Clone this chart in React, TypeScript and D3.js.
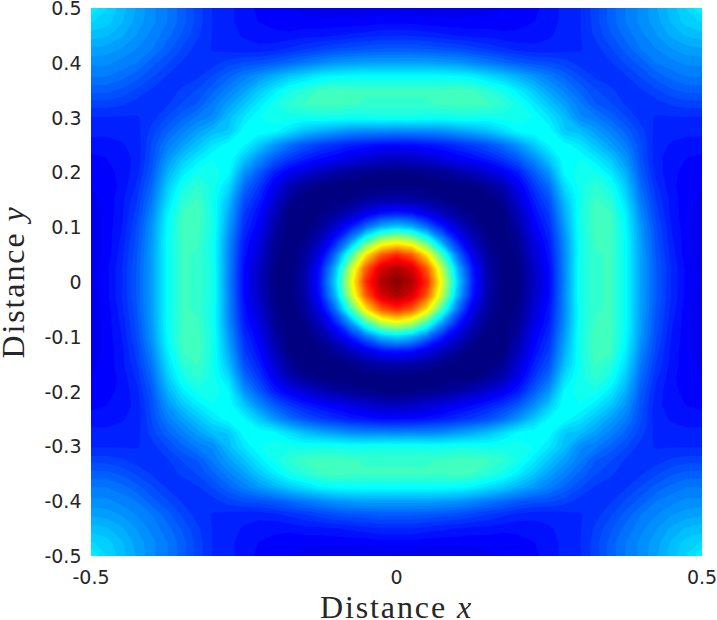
import React from "react";
import * as d3 from "d3";

const WIDTH = 717;
const HEIGHT = 620;
const STEP = 0.025;
// One triangle of the symmetric field: row j is y = j*STEP, entry i is x = i*STEP (i <= j), read as position on the jet scale.
const fieldRows: number[][] = [
  [1],
  [.96,.92],
  [.84,.79,.65],
  [.60,.56,.44,.28],
  [.34,.31,.24,.16,.09],
  [.16,.15,.11,.07,.035,.012],
  [.05,.045,.035,.018,.005,.002,.004],
  [.006,.005,.003,.002,.004,.01,.028,.06],
  [.012,.015,.02,.03,.045,.065,.09,.12,.16],
  [.07,.075,.09,.105,.125,.14,.16,.185,.22,.27],
  [.14,.14,.15,.16,.175,.19,.21,.24,.28,.33,.378],
  [.26,.265,.265,.27,.285,.30,.32,.35,.38,.39,.385,.33],
  [.40,.40,.395,.395,.40,.40,.395,.40,.40,.39,.36,.32,.27],
  [.435,.435,.435,.44,.445,.445,.44,.425,.40,.365,.325,.29,.255,.22],
  [.44,.44,.44,.44,.445,.44,.42,.40,.365,.33,.29,.26,.23,.205,.19],
  [.385,.385,.385,.385,.38,.37,.35,.33,.305,.28,.255,.23,.205,.185,.18,.185],
  [.29,.29,.29,.285,.28,.265,.25,.235,.22,.21,.205,.195,.18,.175,.185,.205,.225],
  [.22,.22,.215,.21,.205,.195,.185,.175,.165,.16,.16,.165,.17,.18,.20,.225,.25,.265],
  [.17,.17,.165,.16,.155,.15,.15,.145,.145,.15,.155,.16,.17,.19,.215,.24,.26,.28,.30],
  [.135,.135,.13,.13,.13,.13,.13,.13,.135,.14,.15,.16,.17,.195,.225,.25,.27,.29,.315,.335],
  [.115,.115,.115,.115,.115,.115,.12,.125,.13,.135,.15,.16,.17,.195,.225,.25,.27,.295,.32,.345,.375],
];
const xTicks = [-0.5, 0, 0.5];
const yTicks = [0.5, 0.4, 0.3, 0.2, 0.1, 0, -0.1, -0.2, -0.3, -0.4, -0.5];
const LEVELS = 64;

function jet(v: number): string {
  const ramp = (c: number) => Math.max(0, Math.min(1, 1.5 - Math.abs(4 * v - c)));
  const to = (c: number) => Math.round(255 * c);
  return `rgb(${to(ramp(3))},${to(ramp(2))},${to(ramp(1))})`;
}

export default function App() {
  const plot = { left: 91, right: 702, top: 8, bottom: 556 };
  const x = d3.scaleLinear().domain([-0.5, 0.5]).range([plot.left, plot.right]);
  const y = d3.scaleLinear().domain([-0.5, 0.5]).range([plot.bottom, plot.top]);

  const n = 2 * (fieldRows.length - 1) + 1;
  const mid = fieldRows.length - 1;
  const values: number[] = [];
  for (let r = 0; r < n; r++) {
    for (let c = 0; c < n; c++) {
      const a = Math.abs(r - mid);
      const b = Math.abs(c - mid);
      values.push(fieldRows[Math.max(a, b)][Math.min(a, b)]);
    }
  }
  const thresholds = d3.range(1, LEVELS).map((k) => k / LEVELS);
  const bands = d3.contours().size([n, n]).smooth(true).thresholds(thresholds)(values);
  // d3.contours places sample k at grid coordinate k + 0.5
  const gx = (g: number) => x((g - 0.5 - mid) * STEP);
  const gy = (g: number) => y((g - 0.5 - mid) * STEP);
  const path = d3.geoPath(
    d3.geoTransform({
      point(px: number, py: number) {
        (this as any).stream.point(gx(px), gy(py));
      },
    })
  );

  const tickStyle = { fontFamily: "DejaVu Sans", fontSize: 19, fill: "#262626" };
  const labelStyle = { fontFamily: "Liberation Serif", fontSize: 32, fill: "#262626", letterSpacing: 1.9 };

  return (
    <svg width={WIDTH} height={HEIGHT} style={{ position: "absolute", left: 0, top: 0, background: "#fff" }}>
      <defs>
        <clipPath id="plot">
          <rect x={plot.left} y={plot.top} width={plot.right - plot.left} height={plot.bottom - plot.top} />
        </clipPath>
      </defs>
      <g clipPath="url(#plot)">
        <rect x={plot.left} y={plot.top} width={plot.right - plot.left} height={plot.bottom - plot.top} fill={jet(0)} />
        {bands.map((b, i) => (
          <path key={i} d={path(b as any) || ""} fill={jet(b.value)} stroke={jet(b.value)} strokeWidth={0.4} />
        ))}
      </g>
      {xTicks.map((t) => (
        <text key={t} x={x(t)} y={584} textAnchor="middle" style={tickStyle}>
          {String(t)}
        </text>
      ))}
      {yTicks.map((t) => (
        <text key={t} x={81.5} y={y(t) + 7} textAnchor="end" style={tickStyle}>
          {String(t)}
        </text>
      ))}
      <text x={396.5} y={618} textAnchor="middle" style={labelStyle}>
        Distance <tspan fontStyle="italic">x</tspan>
      </text>
      <text transform="translate(24,282) rotate(-90)" textAnchor="middle" style={labelStyle}>
        Distance <tspan fontStyle="italic">y</tspan>
      </text>
    </svg>
  );
}
